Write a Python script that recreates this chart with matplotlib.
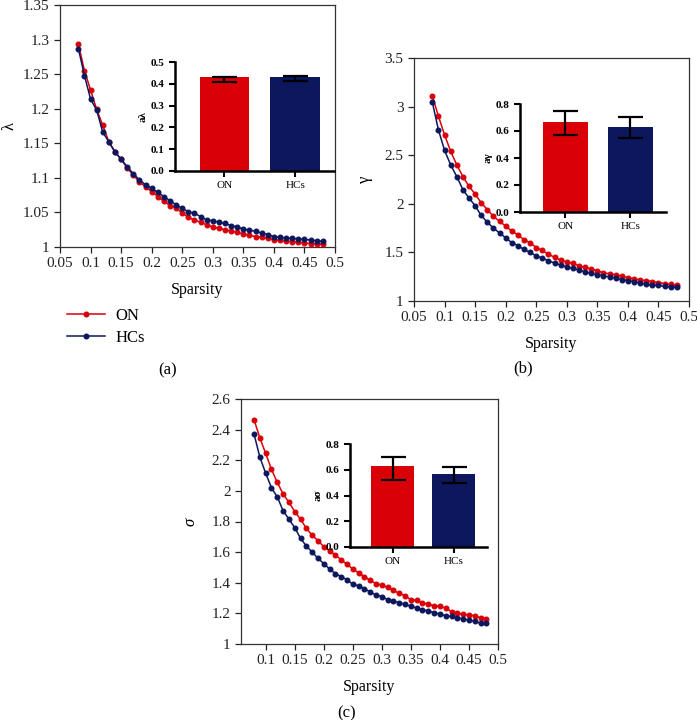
import numpy as np
import matplotlib
matplotlib.use("Agg")
import matplotlib.pyplot as plt
from matplotlib.ticker import FuncFormatter

plt.rcParams['font.family'] = ['Liberation Serif', 'DejaVu Serif']

sparsity = [round(0.08 + 0.01 * i, 2) for i in range(41)]

lambda_on = [1.294, 1.255, 1.227, 1.199, 1.176, 1.152, 1.138, 1.127, 1.114, 1.104,
             1.094, 1.087, 1.080, 1.073, 1.066, 1.060, 1.056, 1.049, 1.043, 1.039,
             1.036, 1.032, 1.029, 1.027, 1.025, 1.023, 1.021, 1.019, 1.017, 1.015,
             1.014, 1.0125, 1.0106, 1.0096, 1.0087, 1.0077, 1.0067, 1.006, 1.005, 1.0048, 1.004]
lambda_hc = [1.287, 1.248, 1.214, 1.198, 1.166, 1.152, 1.137, 1.127, 1.116, 1.106,
             1.097, 1.090, 1.085, 1.079, 1.073, 1.067, 1.061, 1.056, 1.051, 1.049,
             1.044, 1.039, 1.038, 1.036, 1.034, 1.031, 1.029, 1.026, 1.024, 1.023,
             1.020, 1.018, 1.015, 1.014, 1.013, 1.0125, 1.0115, 1.011, 1.010, 1.009, 1.008]

gamma_on = [3.11, 2.90, 2.71, 2.54, 2.40, 2.28, 2.18, 2.10, 2.01, 1.94,
            1.87, 1.82, 1.77, 1.72, 1.68, 1.63, 1.60, 1.55, 1.52, 1.48,
            1.45, 1.42, 1.40, 1.39, 1.36, 1.345, 1.33, 1.31, 1.29, 1.28,
            1.27, 1.255, 1.24, 1.23, 1.215, 1.21, 1.20, 1.19, 1.18, 1.17, 1.16]
gamma_hc = [3.045, 2.76, 2.55, 2.40, 2.28, 2.145, 2.06, 1.98, 1.88, 1.81,
            1.75, 1.70, 1.65, 1.60, 1.57, 1.53, 1.50, 1.465, 1.44, 1.415,
            1.39, 1.37, 1.35, 1.335, 1.32, 1.30, 1.285, 1.27, 1.26, 1.245,
            1.235, 1.22, 1.21, 1.20, 1.185, 1.17, 1.165, 1.16, 1.15, 1.145, 1.14]

sigma_on = [2.465, 2.345, 2.245, 2.14, 2.055, 1.98, 1.925, 1.865, 1.815, 1.755,
            1.71, 1.675, 1.635, 1.61, 1.58, 1.55, 1.52, 1.49, 1.465, 1.44,
            1.415, 1.395, 1.385, 1.37, 1.35, 1.33, 1.315, 1.29, 1.285, 1.27,
            1.26, 1.25, 1.245, 1.235, 1.21, 1.20, 1.195, 1.19, 1.185, 1.17, 1.165]
sigma_hc = [2.37, 2.22, 2.115, 2.02, 1.96, 1.87, 1.815, 1.76, 1.69, 1.64,
            1.60, 1.56, 1.525, 1.49, 1.46, 1.44, 1.42, 1.39, 1.38, 1.36,
            1.34, 1.32, 1.31, 1.29, 1.28, 1.27, 1.26, 1.245, 1.235, 1.225,
            1.215, 1.205, 1.195, 1.185, 1.18, 1.17, 1.165, 1.155, 1.15, 1.135, 1.135]

groups = ["ON", "HCs"]
a_lambda = [0.429, 0.431]
a_lambda_err = [[0.021, 0.016], [0.002, 0.004]]
a_gamma = [0.67, 0.632]
a_gamma_err = [[0.10, 0.084], [0.076, 0.069]]
a_sigma = [0.626, 0.566]
a_sigma_err = [[0.104, 0.067], [0.073, 0.052]]

RED = "#D90008"
NAVY = "#0C175E"

W, H = 697, 720
fig = plt.figure(figsize=(W / 100, H / 100), dpi=100)


def fr(l, t, r, b):
    return [l / W, 1 - b / H, (r - l) / W, (b - t) / H]


def fmt(v, pos):
    return "%g" % round(v, 3)


def main_axes(rect, on, hc, ylim, yticks, xlim, xticks, ylabel, ylab_x, ylab_style):
    ax = fig.add_axes(rect)
    ax.plot(sparsity, on, color=RED, lw=1.1, marker='o', ms=3.3, label="ON", zorder=3)
    ax.plot(sparsity, hc, color=NAVY, lw=1.1, marker='o', ms=3.3, label="HCs", zorder=3)
    ax.set_xlim(*xlim)
    ax.set_ylim(*ylim)
    ax.set_xticks(xticks)
    ax.set_yticks(yticks)
    ax.xaxis.set_major_formatter(FuncFormatter(fmt))
    ax.yaxis.set_major_formatter(FuncFormatter(fmt))
    ax.tick_params(direction='out', length=4, width=0.9, labelsize=11, colors='#222222')
    for s in ax.spines.values():
        s.set_linewidth(0.9)
        s.set_color('#333333')
    ax.set_xlabel("Sparsity", fontsize=11.5, labelpad=8)
    ax.set_ylabel(ylabel, fontsize=12, **ylab_style)
    ax.yaxis.set_label_coords(ylab_x, 0.5)
    return ax


def inset_axes(rect, vals, err, ylabel, yticks):
    ax = fig.add_axes(rect)
    ax.bar([0, 1], vals, width=0.7, color=[RED, NAVY], zorder=2)
    ax.errorbar([0, 1], vals, yerr=err, fmt='none', ecolor='black', elinewidth=1.6,
                capsize=9, capthick=1.6, zorder=3)
    ax.set_xlim(-0.7, 1.55)
    ax.set_ylim(0, yticks[-1])
    ax.set_yticks(yticks)
    ax.set_yticklabels(["%.1f" % v for v in yticks])
    ax.set_xticks([0, 1])
    ax.set_xticklabels(groups)
    for s in ['top', 'right']:
        ax.spines[s].set_visible(False)
    for s in ['left', 'bottom']:
        ax.spines[s].set_linewidth(1.8)
        ax.spines[s].set_color('black')
    ax.tick_params(direction='out', length=4, width=1.5, labelsize=8)
    for lab in ax.get_yticklabels():
        lab.set_fontweight('bold')
    ax.set_ylabel(ylabel, fontsize=8, labelpad=2, fontweight='bold')
    ax.set_facecolor('none')
    return ax


# Panel (a)
ax_a = main_axes(fr(60, 5, 335, 247), lambda_on, lambda_hc, (1.0, 1.35),
                 np.arange(1.0, 1.351, 0.05), (0.05, 0.5), np.arange(0.05, 0.501, 0.05),
                 "λ", -0.155, {})
inset_axes(fr(175, 62, 334, 171), a_lambda, a_lambda_err, "aλ", [0.0, 0.1, 0.2, 0.3, 0.4, 0.5])

# Panel (b)
ax_b = main_axes(fr(414, 58, 689, 301), gamma_on, gamma_hc, (1.0, 3.5),
                 np.arange(1.0, 3.51, 0.5), (0.05, 0.5), np.arange(0.05, 0.501, 0.05),
                 "γ", -0.15, {})
inset_axes(fr(520, 104, 666, 212), a_gamma, a_gamma_err, "aγ", [0.0, 0.2, 0.4, 0.6, 0.8])

# Panel (c)
ax_c = main_axes(fr(241, 399, 498, 644), sigma_on, sigma_hc, (1.0, 2.6),
                 np.arange(1.0, 2.61, 0.2), (0.0575, 0.5), np.arange(0.1, 0.501, 0.05),
                 "σ", -0.165, {'style': 'italic'})
inset_axes(fr(350, 444, 487, 547), a_sigma, a_sigma_err, "aσ", [0.0, 0.2, 0.4, 0.6, 0.8])

# Legend
handles, labels = ax_a.get_legend_handles_labels()
fig.legend(handles, labels, loc='center left', bbox_to_anchor=(52 / W, 1 - 327 / H),
           frameon=False, fontsize=12, handlelength=2.3, handletextpad=0.6,
           labelspacing=0.35)

# Panel labels
fig.text(168 / W, 1 - 370 / H, "(a)", ha='center', va='center', fontsize=12)
fig.text(523 / W, 1 - 368 / H, "(b)", ha='center', va='center', fontsize=12)
fig.text(347 / W, 1 - 713 / H, "(c)", ha='center', va='center', fontsize=12)

fig.savefig("out.png", dpi=100)
